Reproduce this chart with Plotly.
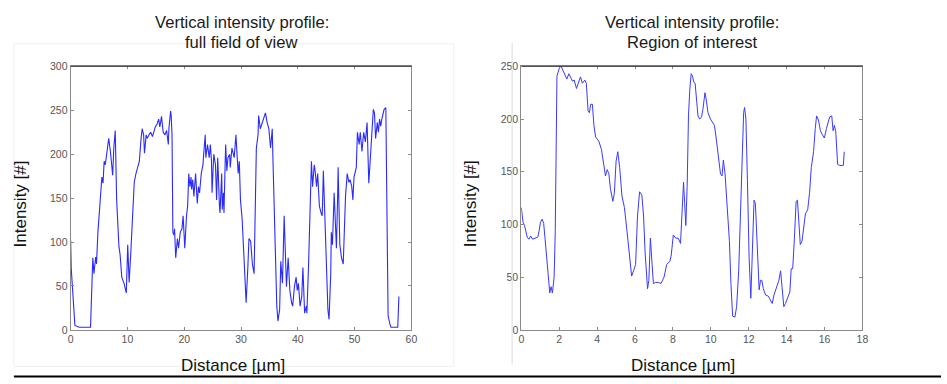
import plotly.graph_objects as go

# Full field of view profile: distance [µm] and intensity [#]
full_dist = [0.0, 0.1, 0.75, 1.5, 2.5, 3.5, 3.9, 4.1, 4.4, 4.55, 4.8, 5.1, 5.2, 5.5, 5.7, 5.9, 6.1,
             6.4, 6.7, 7.0, 7.3, 7.4, 7.6, 7.85, 8.1, 8.3, 8.5, 8.7, 9.0, 9.4, 9.8, 10.05, 10.3,
             10.6, 10.9, 11.2, 11.5, 11.9, 12.1, 12.4, 12.6, 12.85, 13.0, 13.3, 13.5, 13.8, 14.1,
             14.4, 14.7, 14.9, 15.2, 15.5, 15.7, 16.0, 16.3, 16.6, 16.9, 17.2, 17.3, 17.6, 17.7,
             17.85, 18.0, 18.2, 18.3, 18.5, 18.8, 19.0, 19.3, 19.6, 19.8, 20.1, 20.4, 20.6, 20.8,
             21.0, 21.2, 21.3, 21.5, 21.7, 22.0, 22.3, 22.5, 22.7, 23.0, 23.3, 23.4, 23.7, 23.8,
             24.1, 24.4, 24.6, 24.8, 24.9, 25.2, 25.5, 25.7, 25.9, 26.2, 26.3, 26.6, 26.7, 26.9,
             27.0, 27.2, 27.3, 27.5, 27.7, 28.0, 28.1, 28.4, 28.7, 28.8, 29.1, 29.4, 29.5, 29.7,
             29.9, 30.2, 30.3, 30.5, 30.8, 30.9, 31.2, 31.4, 31.7, 32.0, 32.3, 32.5, 32.7, 33.0,
             33.1, 33.4, 33.7, 34.0, 34.3, 34.6, 34.9, 35.2, 35.5, 35.6, 35.9, 36.1, 36.3, 36.5,
             36.7, 36.8, 37.0, 37.3, 37.6, 37.8, 38.0, 38.3, 38.6, 38.9, 39.1, 39.4, 39.7, 39.9,
             40.1, 40.4, 40.7, 40.9, 41.2, 41.5, 41.6, 41.9, 42.2, 42.4, 42.6, 42.9, 43.1, 43.3,
             43.5, 43.8, 44.1, 44.3, 44.5, 44.8, 45.1, 45.3, 45.5, 45.8, 45.9, 46.1, 46.4, 46.6,
             46.8, 47.0, 47.1, 47.4, 47.7, 48.0, 48.1, 48.4, 48.7, 49.0, 49.2, 49.5, 49.7, 49.9,
             50.3, 50.5, 50.8, 51.0, 51.3, 51.6, 51.9, 52.2, 52.5, 52.7, 53.0, 53.3, 53.5, 53.7,
             54.0, 54.2, 54.4, 54.6, 54.8, 55.2, 55.5, 55.7, 55.9, 56.2, 56.4, 57.0, 57.6, 57.8]
full_intensity = [102, 70, 5, 3, 3, 3, 82, 64, 83, 75, 111, 144, 148, 174, 167, 192, 188,
                  205, 218, 203, 185, 176, 207, 227, 148, 111, 95, 86, 60, 53, 42, 97, 54,
                  89, 126, 168, 178, 187, 192, 218, 229, 222, 201, 222, 218, 222, 225,
                  220, 227, 231, 234, 240, 231, 243, 225, 222, 227, 211, 229, 249, 244,
                  222, 111, 108, 115, 82, 104, 93, 111, 115, 130, 93, 130, 141, 178,
                  163, 174, 160, 171, 152, 178, 144, 163, 156, 178, 188, 198, 222, 196,
                  211, 196, 211, 192, 156, 200, 188, 148, 196, 141, 133, 178, 137, 156,
                  133, 188, 211, 181, 196, 200, 185, 207, 200, 196, 222, 185, 178, 192,
                  148, 126, 111, 75, 38, 31, 71, 104, 101, 75, 64, 141, 207, 222,
                  244, 229, 236, 240, 247, 236, 229, 207, 229, 200, 130, 64, 27, 10,
                  19, 23, 78, 53, 130, 75, 49, 82, 45, 31, 27, 49, 60, 45,
                  53, 27, 38, 71, 19, 27, 19, 75, 141, 192, 163, 188, 178, 163,
                  178, 141, 133, 130, 181, 111, 45, 23, 12, 64, 111, 97, 156, 111,
                  93, 148, 185, 97, 82, 75, 93, 152, 178, 168, 171, 163, 148, 174,
                  185, 225, 211, 225, 203, 225, 214, 236, 167, 188, 229, 251, 247, 218,
                  236, 225, 240, 232, 240, 251, 253, 111, 16, 7, 3, 3, 3, 38]

# Region of interest profile
roi_dist = [0.0, 0.09, 0.17, 0.31, 0.4, 0.49, 0.59, 0.75, 0.87, 0.94, 1.01, 1.1, 1.18, 1.25,
            1.36, 1.45, 1.5, 1.57, 1.64, 1.73, 1.79, 1.88, 1.95, 2.02, 2.1, 2.21, 2.32, 2.4,
            2.51, 2.6, 2.7, 2.79, 2.91, 3.01, 3.12, 3.22, 3.35, 3.43, 3.52, 3.59, 3.66, 3.75,
            3.83, 3.92, 4.09, 4.23, 4.36, 4.44, 4.53, 4.62, 4.7, 4.83, 4.91, 5.0, 5.09, 5.19,
            5.31, 5.44, 5.58, 5.7, 5.82, 5.92, 6.03, 6.13, 6.24, 6.36, 6.45, 6.53, 6.66, 6.73,
            6.81, 6.9, 6.97, 7.09, 7.23, 7.37, 7.53, 7.67, 7.84, 7.91, 8.02, 8.15, 8.28, 8.4,
            8.47, 8.56, 8.62, 8.68, 8.75, 8.82, 8.89, 8.96, 9.03, 9.1, 9.17, 9.24, 9.32, 9.41,
            9.51, 9.58, 9.69, 9.76, 9.85, 9.98, 10.11, 10.19, 10.28, 10.4, 10.51, 10.59, 10.66,
            10.75, 10.84, 10.98, 11.06, 11.15, 11.27, 11.36, 11.47, 11.55, 11.64, 11.73, 11.78,
            11.85, 11.93, 12.02, 12.11, 12.2, 12.28, 12.35, 12.46, 12.55, 12.62, 12.69, 12.77,
            12.89, 13.03, 13.16, 13.24, 13.33, 13.45, 13.59, 13.68, 13.77, 13.85, 13.94, 14.08,
            14.17, 14.24, 14.32, 14.41, 14.5, 14.57, 14.64, 14.72, 14.81, 14.92, 14.99, 15.11,
            15.21, 15.3, 15.42, 15.51, 15.58, 15.68, 15.78, 15.89, 15.99, 16.1, 16.2, 16.27,
            16.38, 16.45, 16.52, 16.59, 16.69, 16.8, 16.94, 16.99, 17.04]
roi_intensity = [116, 102, 99, 88, 86, 89, 86, 87, 88, 94, 102, 105, 101, 87,
                 65, 44, 35, 41, 35, 50, 93, 241, 246, 249, 250, 246, 241, 238,
                 243, 239, 236, 237, 229, 234, 240, 234, 237, 234, 208, 206, 214, 214,
                 194, 183, 179, 171, 157, 146, 152, 148, 134, 122, 130, 160, 169, 154,
                 127, 116, 93, 68, 51, 56, 62, 108, 131, 128, 108, 74, 39, 47,
                 87, 62, 44, 45, 45, 44, 50, 62, 65, 71, 90, 87, 87, 82,
                 108, 140, 120, 99, 136, 203, 228, 243, 241, 235, 234, 215, 203, 200,
                 202, 209, 225, 218, 206, 200, 197, 194, 182, 163, 148, 146, 161,
                 148, 123, 84, 44, 13, 12, 22, 56, 108, 160, 206, 211,
                 200, 142, 68, 30, 78, 123, 120, 68, 38, 47, 47, 39,
                 33, 32, 27, 25, 33, 39, 47, 56, 38, 22, 25, 33,
                 36, 58, 58, 87, 122, 123, 99, 81, 84, 99, 110, 114,
                 130, 154, 169, 191, 203, 199, 189, 185, 182, 191, 197, 202,
                 203, 189, 194, 188, 157, 156, 156, 156, 169]

left_xticks = [0, 10, 20, 30, 40, 50, 60]
left_yticks = [0, 50, 100, 150, 200, 250, 300]
right_xticks = [0, 2, 4, 6, 8, 10, 12, 14, 16, 18]
right_yticks = [0, 50, 100, 150, 200, 250]

W, H = 947, 384
FONT = "Liberation Sans, Arial, sans-serif"
LINE_BLUE = "#2a2aff"


def px(x):
    return x / W


def py(y):
    return 1 - y / H


fig = go.Figure()
fig.add_trace(go.Scatter(x=full_dist, y=full_intensity, mode="lines",
                         line=dict(color=LINE_BLUE, width=1.1), xaxis="x", yaxis="y",
                         showlegend=False, hoverinfo="skip"))
fig.add_trace(go.Scatter(x=roi_dist, y=roi_intensity, mode="lines",
                         line=dict(color="#3a3aff", width=1), xaxis="x2", yaxis="y2",
                         showlegend=False, hoverinfo="skip"))

axis_style = dict(showgrid=False, zeroline=False, showline=True, linecolor="#8a8a8a",
                  linewidth=1, mirror="ticks", ticks="inside", ticklen=3, tickwidth=1,
                  tickcolor="#8a8a8a", tickfont=dict(family=FONT, size=10.5, color="#555555"),
                  fixedrange=True)

y_dom = [py(334.3), py(62.3)]
fig.update_layout(
    width=W, height=H, margin=dict(l=0, r=0, t=0, b=0),
    paper_bgcolor="white", plot_bgcolor="white",
    xaxis=dict(domain=[px(68.3), px(412.3)], range=[0, 60], tickvals=left_xticks,
               anchor="y", **axis_style),
    yaxis=dict(domain=y_dom, range=[0, 300], tickvals=left_yticks, anchor="x", **axis_style),
    xaxis2=dict(domain=[px(523.3), px(867.7)], range=[0, 18], tickvals=right_xticks,
                anchor="y2", **axis_style),
    yaxis2=dict(domain=y_dom, range=[0, 250], tickvals=right_yticks, anchor="x2", **axis_style),
)

ann = []
# Panel titles
for cx, lines in [(241, ["Vertical intensity profile:", "full field of view"]),
                  (696, ["Vertical intensity profile:", "Region of interest"])]:
    ann.append(dict(x=px(cx), y=py(17), text=lines[0]))
    ann.append(dict(x=px(cx), y=py(37.5), text=lines[1]))
ann = [dict(a, xref="paper", yref="paper", showarrow=False, xanchor="center", yanchor="middle",
            font=dict(family=FONT, size=16.6, color="#1a1a1a")) for a in ann]

# Axis titles
for cx in (232.5, 687):
    ann.append(dict(x=px(cx), y=py(371), text="Distance [µm]", xref="paper", yref="paper",
                    showarrow=False, xanchor="center", yanchor="middle",
                    font=dict(family=FONT, size=17, color="#111111")))
for cx in (17.5, 471.5):
    ann.append(dict(x=px(cx), y=py(204.5), text="Intensity [#]", xref="paper", yref="paper",
                    showarrow=False, xanchor="center", yanchor="middle", textangle=-90,
                    font=dict(family=FONT, size=17, color="#111111")))
fig.update_layout(annotations=ann)

# Panel frames and the bottom rule
shapes = [
    dict(type="line", x0=px(68.3), x1=px(412.3), y0=py(62.3), y1=py(62.3), line=dict(color="#333333", width=1)),
    dict(type="line", x0=px(523.3), x1=px(867.7), y0=py(62.3), y1=py(62.3), line=dict(color="#333333", width=1)),
    dict(type="rect", x0=px(11), x1=px(455), y0=py(372), y1=py(39), line=dict(color="#f0f0f0", width=1)),
    dict(type="line", x0=px(514), x1=px(514), y0=py(370), y1=py(38), line=dict(color="#dcdcdc", width=1)),
    dict(type="line", x0=px(11), x1=1, y0=py(382.5), y1=py(382.5), line=dict(color="#000000", width=2)),
]
fig.update_layout(shapes=[dict(s, xref="paper", yref="paper", layer="above") for s in shapes])

fig.write_html("out.html")
